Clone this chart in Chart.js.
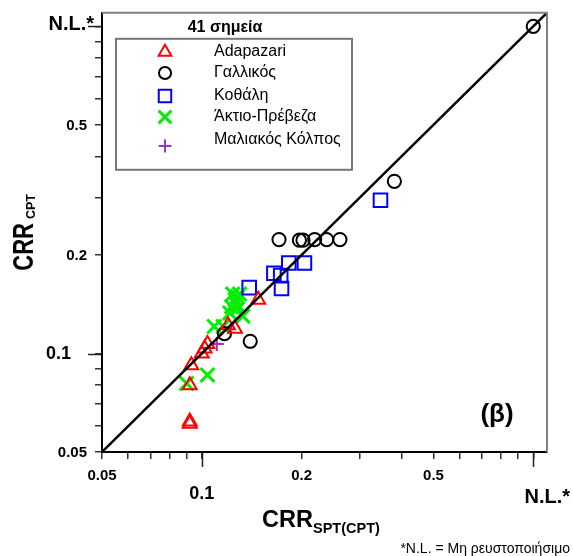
<!DOCTYPE html>
<html>
<head>
<meta charset="utf-8">
<script src="https://cdn.jsdelivr.net/npm/chart.js@4"></script>
<style>
  html, body { margin: 0; padding: 0; background: #fff; }
</style>
</head>
<body>
<canvas id="myChart" width="573" height="556"></canvas>
<script>
// series values (CRR_SPT(CPT) on x, CRR_CPT on y)
const adapazariX = [0.092, 0.092, 0.092, 0.093, 0.100, 0.102, 0.104, 0.120, 0.126, 0.148];
const adapazariY = [0.061, 0.062, 0.080, 0.092, 0.100, 0.1035, 0.107, 0.122, 0.119, 0.146];

const gallikosX = [0.117, 0.140, 0.171, 0.197, 0.202, 0.219, 0.238, 0.261, 0.381, 1.0];
const gallikosY = [0.115, 0.109, 0.223, 0.222, 0.222, 0.223, 0.223, 0.223, 0.336, 1.0];

const kothaliX = [0.139, 0.165, 0.173, 0.174, 0.183, 0.204, 0.346];
const kothaliY = [0.159, 0.176, 0.173, 0.158, 0.189, 0.189, 0.294];

const aktioX = [0.090, 0.104, 0.109, 0.116, 0.124, 0.130, 0.126, 0.128, 0.123, 0.128, 0.133, 0.1215, 0.127];
const aktioY = [0.081, 0.086, 0.121, 0.121, 0.152, 0.152, 0.146, 0.149, 0.139, 0.137, 0.130, 0.133, 0.142];

const maliakosX = [0.111];
const maliakosY = [0.107];

const seriesNames = ['Adapazari', 'Γαλλικός', 'Κοθάλη', 'Άκτιο-Πρέβεζα', 'Μαλιακός Κόλπος'];

// axis ticks
const tickValues = [0.05, 0.06, 0.07, 0.08, 0.09, 0.1, 0.2, 0.3, 0.4, 0.5, 0.6, 0.7, 0.8, 0.9, 1.0];
const labelValues = [0.05, 0.1, 0.2, 0.5, 1.0];
const tickLabels = ['0.05', '0.1', '0.2', '0.5', 'N.L.*'];
const majorValues = [0.1, 1.0];
const axisMin = 0.05, axisMax = 1.1;

function pts(xs, ys) {
  return xs.map((x, i) => ({ x: x, y: ys[i] }));
}

const looks = [
  { color: '#ff0000', style: 'triangle', r: 8, w: 2 },
  { color: '#000000', style: 'circle', r: 6.6, w: 2 },
  { color: '#0000ff', style: 'rect', r: 9.6, w: 2 },
  { color: '#00ee00', style: 'crossRot', r: 9.8, w: 3 },
  { color: '#9933cc', style: 'cross', r: 7, w: 2 }
];

const allX = [adapazariX, gallikosX, kothaliX, aktioX, maliakosX];
const allY = [adapazariY, gallikosY, kothaliY, aktioY, maliakosY];

const datasets = [{
  type: 'line',
  label: '1:1',
  data: [{ x: axisMin, y: axisMin }, { x: axisMax, y: axisMax }],
  borderColor: '#000',
  borderWidth: 2.5,
  pointRadius: 0,
  fill: false,
  isLine: true
}];
seriesNames.forEach((name, i) => {
  const lk = looks[i];
  datasets.push({
    label: name,
    data: pts(allX[i], allY[i]),
    pointStyle: lk.style,
    pointRadius: lk.r,
    pointHoverRadius: lk.r,
    pointBorderWidth: lk.w,
    borderColor: lk.color,
    backgroundColor: 'rgba(0,0,0,0)',
    pointBackgroundColor: 'rgba(0,0,0,0)'
  });
});

const FONT = '"Liberation Sans", Arial, sans-serif';

const decor = {
  id: 'decor',
  afterDraw(chart) {
    const ctx = chart.ctx, a = chart.chartArea;
    const xs = chart.scales.x, ys = chart.scales.y;
    ctx.save();

    // grey frame on top and right
    ctx.strokeStyle = '#808080';
    ctx.lineWidth = 2;
    ctx.beginPath();
    ctx.moveTo(a.left, a.top);
    ctx.lineTo(a.right, a.top);
    ctx.lineTo(a.right, a.bottom);
    ctx.stroke();

    // longer ticks at 0.1 and N.L.
    ctx.strokeStyle = '#222';
    ctx.lineWidth = 1.5;
    majorValues.forEach(v => {
      const px = Math.round(xs.getPixelForValue(v)) + 0.5;
      ctx.beginPath(); ctx.moveTo(px, a.bottom); ctx.lineTo(px, a.bottom + 15); ctx.stroke();
      const py = Math.round(ys.getPixelForValue(v)) + 0.5;
      ctx.beginPath(); ctx.moveTo(a.left, py); ctx.lineTo(a.left - 14, py); ctx.stroke();
    });

    // tick labels
    ctx.fillStyle = '#000';
    ctx.textBaseline = 'middle';
    labelValues.forEach((v, i) => {
      const big = majorValues.includes(v);
      const nl = v === 1.0;
      ctx.font = 'bold ' + (nl ? 20 : big ? 18 : 15) + 'px ' + FONT;
      const px = xs.getPixelForValue(v);
      ctx.textAlign = 'center';
      if (nl) ctx.fillText(tickLabels[i], px + 14, a.bottom + 45);
      else ctx.fillText(tickLabels[i], px, a.bottom + (big ? 42 : 24));
      const py = ys.getPixelForValue(v);
      ctx.textAlign = 'right';
      if (nl) ctx.fillText(tickLabels[i], a.left - 8, py - 2);
      else if (big) ctx.fillText(tickLabels[i], a.left - 31, py + 1);
      else ctx.fillText(tickLabels[i], a.left - 15, py + 1);
    });

    // x title CRR_SPT(CPT)
    ctx.textBaseline = 'alphabetic';
    ctx.textAlign = 'left';
    ctx.font = 'bold 23.5px ' + FONT;
    const w1 = ctx.measureText('CRR').width;
    ctx.font = 'bold 14.5px ' + FONT;
    const w2 = ctx.measureText('SPT(CPT)').width;
    let sx = 321 - (w1 + w2) / 2;
    ctx.font = 'bold 23.5px ' + FONT;
    ctx.fillText('CRR', sx, 527);
    ctx.font = 'bold 14.5px ' + FONT;
    ctx.fillText('SPT(CPT)', sx + w1, 533);

    // y title CRR_CPT
    ctx.save();
    ctx.translate(33, (a.top + a.bottom) / 2);
    ctx.rotate(-Math.PI / 2);
    ctx.font = 'bold 22px ' + FONT;
    const v1 = ctx.measureText('CRR').width;
    ctx.font = 'bold 12.5px ' + FONT;
    const v2 = ctx.measureText('CPT').width;
    const vx = -(v1 + v2 + 4) / 2;
    ctx.save();
    ctx.scale(1, 1.35);
    ctx.font = 'bold 22px ' + FONT;
    ctx.fillText('CRR', vx, 0);
    ctx.restore();
    ctx.font = 'bold 12.5px ' + FONT;
    ctx.fillText('CPT', vx + v1 + 4, 1.5);
    ctx.restore();

    // legend
    const lx = a.left + 14, ly = a.top + 26, lw = 236, lh = 131;
    ctx.strokeStyle = '#777';
    ctx.lineWidth = 2;
    ctx.strokeRect(lx, ly, lw, lh);
    ctx.fillStyle = '#000';
    ctx.font = 'bold 16px ' + FONT;
    ctx.textAlign = 'center';
    ctx.textBaseline = 'middle';
    ctx.fillText('41 σημεία', 225, a.top + 15);
    const rowsY = [52, 73, 96, 117, 140];
    const markY = [52, 73, 96, 117, 146];
    chart.data.datasets.filter(d => !d.isLine).forEach((d, i) => {
      ctx.strokeStyle = d.borderColor;
      ctx.fillStyle = 'rgba(0,0,0,0)';
      ctx.lineWidth = d.pointBorderWidth;
      const lr = d.pointRadius * 0.92;
      Chart.helpers.drawPoint(ctx, { pointStyle: d.pointStyle, radius: lr, rotation: 0, borderWidth: d.pointBorderWidth }, 165, markY[i]);
      ctx.fillStyle = '#000';
      ctx.font = '16px ' + FONT;
      ctx.textAlign = 'left';
      ctx.fillText(d.label, 214, rowsY[i]);
    });

    // panel tag and footnote
    ctx.font = 'bold 26px ' + FONT;
    ctx.textAlign = 'center';
    ctx.fillText('(β)', 497, 415);
    ctx.font = '14px ' + FONT;
    ctx.textAlign = 'right';
    ctx.textBaseline = 'alphabetic';
    ctx.fillText('*N.L. = Μη ρευστοποιήσιμο', 570, 553);

    ctx.restore();
  }
};

function axis(fitFn) {
  return {
    type: 'logarithmic',
    min: axisMin,
    max: axisMax,
    bounds: 'data',
    afterBuildTicks: s => { s.ticks = tickValues.map(v => ({ value: v })); },
    afterFit: fitFn,
    ticks: { display: false, autoSkip: false },
    grid: { drawOnChartArea: false, drawTicks: true, tickLength: 7, color: '#333', lineWidth: 1.5 },
    border: { display: true, color: '#000', width: 2 }
  };
}

document.addEventListener('DOMContentLoaded', function() {
  const ctx = document.getElementById('myChart');
  new Chart(ctx, {
    type: 'scatter',
    data: { datasets: datasets },
    options: {
      responsive: false,
      animation: false,
      layout: { padding: { left: 0, top: 11, right: 26, bottom: 0 } },
      scales: {
        x: axis(s => { s.height = 104; }),
        y: axis(s => { s.width = 102; })
      },
      plugins: { legend: { display: false }, tooltip: { enabled: false } }
    },
    plugins: [decor]
  });
});
</script>
</body>
</html>
